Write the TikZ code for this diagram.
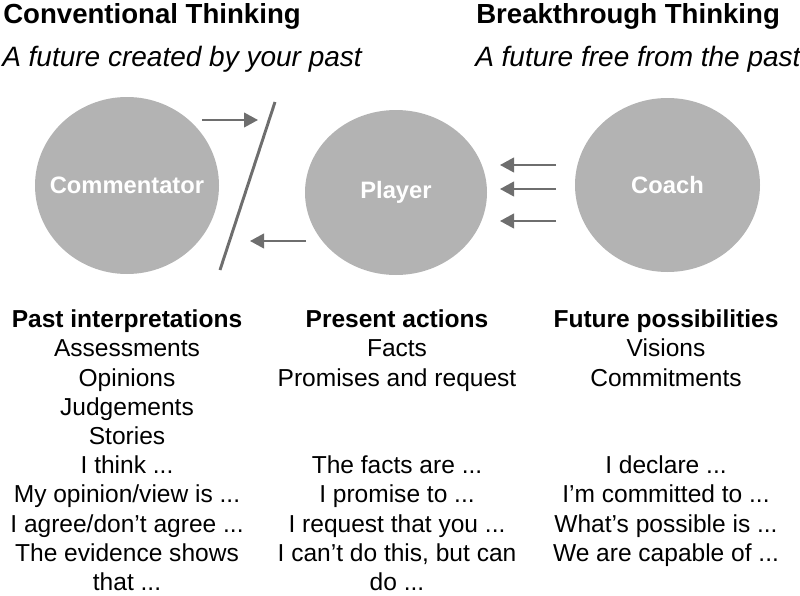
\documentclass[tikz,border=0pt]{standalone}
\usepackage{fontspec}
\setmainfont{Liberation Sans}
\usepackage{tikz}
\usetikzlibrary{shapes.geometric,arrows.meta,positioning}

\definecolor{blobgray}{HTML}{B3B3B3}
\definecolor{arrgray}{HTML}{6E6E6E}

\begin{document}
\begin{tikzpicture}[
  x=0.75pt, y=-0.75pt,
  blob/.style={
    ellipse, draw=none, fill=blobgray, inner sep=0pt
  },
  bloblabel/.style={
    text=white, inner sep=0pt,
    font=\fontsize{17.8}{20}\selectfont\bfseries
  },
  bigtitle/.style={
    anchor=base west, inner sep=0pt,
    font=\fontsize{20.7}{24}\selectfont\bfseries
  },
  motto/.style={
    anchor=base west, inner sep=0pt,
    font=\fontsize{21}{24}\selectfont\itshape
  },
  colbox/.style={
    anchor=north, inner sep=0pt, align=center,
    font=\fontsize{18.4}{22}\selectfont
  },
  arr/.style={-{Triangle[length=10.5pt,width=11pt]}, line width=1.5pt, draw=arrgray},
  cut/.style={line width=2.2pt, draw=arrgray},
]
\useasboundingbox (0,0) rectangle (800,596);

%% ── Titles ───────────────────────────────────────────────────────
\node[bigtitle] (convT)  at (3,23)   {Conventional Thinking};
\node[motto]    (convM)  at (2,66)   {A future created by your past};
\node[bigtitle] (breakT) at (476,23) {Breakthrough Thinking};
\node[motto]    (breakM) at (475,66) {A future free from the past};

%% ── Roles ────────────────────────────────────────────────────────
\node[blob, minimum width=138pt,    minimum height=132.75pt,
      label={[bloblabel]center:Commentator}] (comm)  at (127,185.5) {};
\node[blob, minimum width=136.5pt,  minimum height=123.75pt,
      label={[bloblabel]center:Player}]      (play)  at (396,192.5) {};
\node[blob, minimum width=138.75pt, minimum height=130.5pt,
      label={[bloblabel]center:Coach}]       (coach) at (667.5,185) {};

%% ── Arrow ends (free) ────────────────────────────────────────────
\coordinate (pastOutS) at (202,120);
\coordinate (pastOutE) at (258,120);
\coordinate (pastInS)  at (306,241);
\coordinate (pastInE)  at (250,241);
\coordinate (coachAS)  at (556,165);
\coordinate (coachAE)  at (500,165);
\coordinate (coachBS)  at (556,189);
\coordinate (coachBE)  at (500,189);
\coordinate (coachCS)  at (556,221);
\coordinate (coachCE)  at (500,221);
\coordinate (cutTop)   at (275,102);
\coordinate (cutBot)   at (220,270);

%% ── Arrows and the cut ───────────────────────────────────────────
\draw[arr] (pastOutS) -- (pastOutE);
\draw[arr] (pastInS)  -- (pastInE);
\draw[cut] (cutTop)   -- (cutBot);
\draw[arr] (coachAS)  -- (coachAE);
\draw[arr] (coachBS)  -- (coachBE);
\draw[arr] (coachCS)  -- (coachCE);

%% ── Columns ──────────────────────────────────────────────────────
\node[colbox] (pastcat) at (127,309.5)
      {\textbf{Past interpretations}\\Assessments\\Opinions\\Judgements\\Stories};
\node[colbox] (pastsay) at (127,455.5)
      {I think ...\\My opinion/view is ...\\I agree/don’t agree ...\\The evidence shows\\that ...};

\node[colbox] (nowcat) at (397,309.5)
      {\textbf{Present actions}\\Facts\\Promises and request};
\node[colbox] (nowsay) at (397,455.5)
      {The facts are ...\\I promise to ...\\I request that you ...\\I can’t do this, but can\\do ...};

\node[colbox] (futcat) at (666,309.5)
      {\textbf{Future possibilities}\\Visions\\Commitments};
\node[colbox] (futsay) at (666,455.5)
      {I declare ...\\I’m committed to ...\\What’s possible is ...\\We are capable of ...};

\end{tikzpicture}
\end{document}
